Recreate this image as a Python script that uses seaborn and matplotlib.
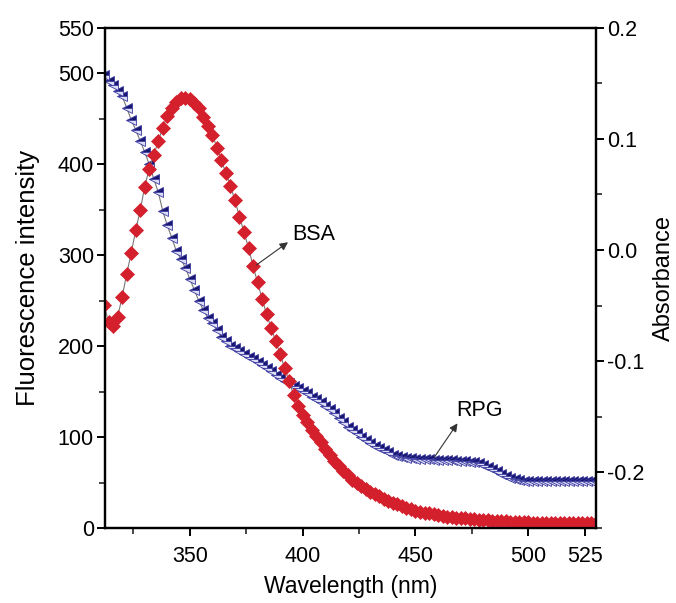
import numpy as np
import pandas as pd
import matplotlib
matplotlib.use("Agg")
import matplotlib.pyplot as plt
import seaborn as sns
from matplotlib.ticker import FixedLocator, MultipleLocator

# ---------------- data ----------------
wavelength = list(range(312, 532, 2))  # nm

bsa_fluorescence = [
    245, 226, 222, 232, 254, 279, 302, 327, 349, 375,
    395, 410, 425, 440, 453, 462, 468, 472, 473, 471,
    467, 461, 452, 442, 432, 418, 404, 390, 376, 360,
    342, 325, 308, 288, 270, 252, 235, 220, 206, 191,
    176, 161, 146, 134, 124, 116, 108, 101, 94, 87,
    80, 74, 68, 63, 58, 53, 49, 46, 43, 40,
    37, 35, 32, 30, 28, 26, 24, 22, 21, 19,
    18, 17, 16, 15, 14, 13, 12.5, 12, 11.5, 11,
    10.5, 10, 9.5, 9, 8.7, 8.4, 8, 7.8, 7.5, 7.2,
    7, 6.8, 6.6, 6.4, 6.2, 6, 5.9, 5.8, 5.7, 5.6,
    5.5, 5.4, 5.3, 5.2, 5.1, 5, 5, 5, 5, 5,
]

rpg_absorbance = [
    0.157, 0.152, 0.148, 0.143, 0.138, 0.128, 0.117, 0.108, 0.098, 0.088,
    0.077, 0.064, 0.052, 0.035, 0.022, 0.011, -0.001, -0.008, -0.016, -0.026,
    -0.036, -0.046, -0.054, -0.061, -0.066, -0.072, -0.078, -0.082, -0.086, -0.088,
    -0.091, -0.094, -0.096, -0.098, -0.101, -0.103, -0.106, -0.109, -0.112, -0.115,
    -0.118, -0.120, -0.122, -0.124, -0.127, -0.129, -0.132, -0.134, -0.137, -0.140,
    -0.143, -0.147, -0.151, -0.155, -0.159, -0.162, -0.165, -0.168, -0.171, -0.174,
    -0.176, -0.178, -0.180, -0.182, -0.184, -0.185, -0.186, -0.187, -0.187, -0.188,
    -0.188, -0.188, -0.188, -0.189, -0.189, -0.189, -0.189, -0.189, -0.190, -0.190,
    -0.190, -0.191, -0.191, -0.192, -0.193, -0.195, -0.197, -0.199, -0.201, -0.203,
    -0.205, -0.206, -0.207, -0.2075, -0.208, -0.208, -0.208, -0.208, -0.208, -0.208,
    -0.208, -0.208, -0.208, -0.208, -0.208, -0.208, -0.208, -0.208, -0.208, -0.208,
]

x_major = [350, 400, 450, 500, 525]
x_minor = [325, 375, 425, 475]
left_major = [0, 100, 200, 300, 400, 500, 550]
right_major = [-0.2, -0.1, 0.0, 0.1, 0.2]
right_labels = ["-0.2", "-0.1", "0.0", "0.1", "0.2"]

# ---------------- styling ----------------
sns.set_style("white")
plt.rcParams["font.family"] = ["Liberation Sans", "DejaVu Sans"]
plt.rcParams["axes.unicode_minus"] = False
plt.rcParams["text.color"] = "black"
plt.rcParams["axes.labelcolor"] = "black"

df = pd.DataFrame({"wavelength": wavelength,
                   "BSA": bsa_fluorescence,
                   "RPG": rpg_absorbance})

fig = plt.figure(figsize=(6.76, 6.03), dpi=100)
ax = fig.add_axes([105 / 676, 1 - 528 / 603, (596 - 105) / 676, (528 - 27.5) / 603])
ax2 = ax.twinx()

RED = "#d3202c"
NAVY = "#18166e"

# RPG absorbance (right axis), half-filled left triangles
sns.lineplot(data=df, x="wavelength", y="RPG", ax=ax2, color="#777777",
             linewidth=0.8, marker="<", markersize=7.8, fillstyle="top",
             markerfacecolor=NAVY, markerfacecoloralt="#dcdcf4",
             markeredgecolor="#3a3aa0", markeredgewidth=0.6,
             estimator=None, sort=False, legend=False)

# BSA fluorescence (left axis), red diamonds
sns.lineplot(data=df, x="wavelength", y="BSA", ax=ax, color="#777777",
             linewidth=0.8, marker="D", markersize=6.8,
             markerfacecolor=RED, markeredgecolor=RED, markeredgewidth=0.5,
             estimator=None, sort=False, legend=False)

# draw the BSA axes on top of the twin
ax.set_zorder(2)
ax.patch.set_visible(False)
ax2.set_zorder(1)

ax.set_xlim(312.4, 530)
ax.set_ylim(0, 550)
ax2.set_ylim(-0.25, 0.2)

FS = 15.5
ax.xaxis.set_major_locator(FixedLocator(x_major))
ax.xaxis.set_minor_locator(FixedLocator(x_minor))
ax.set_yticks(left_major)
ax.yaxis.set_minor_locator(MultipleLocator(50))
ax2.set_yticks(right_major)
ax2.set_yticklabels(right_labels)
ax2.yaxis.set_minor_locator(MultipleLocator(0.05))

for a in (ax, ax2):
    for s in a.spines.values():
        s.set_color("black")
        s.set_linewidth(1.6)
    a.tick_params(which="major", direction="out", length=6, width=1.4,
                  labelsize=FS, colors="black")
    a.tick_params(which="minor", direction="out", length=4, width=1.2)

ax.tick_params(axis="x", which="both", bottom=True, top=False, pad=7)
ax.tick_params(axis="y", which="both", left=True, right=False, pad=2)
ax2.tick_params(axis="y", which="both", right=True, left=False, pad=2)

ax.set_xlabel("Wavelength (nm)", fontsize=16.5, labelpad=6, color="black")
ax.set_ylabel("Fluorescence intensity", fontsize=18.5, labelpad=13, color="black")
ax2.set_ylabel("Absorbance", fontsize=17, labelpad=6, color="black")

# annotations: arrow from the curve towards the label
ax.annotate("", xy=(393.5, 314), xytext=(379.5, 289),
            arrowprops=dict(arrowstyle="-|>", color="#333333", lw=0.8,
                            mutation_scale=12, shrinkA=0, shrinkB=0))
ax.text(395.5, 323, "BSA", fontsize=FS, ha="left", va="center", color="black")
ax.annotate("", xy=(468.6, 115), xytext=(458.4, 78),
            arrowprops=dict(arrowstyle="-|>", color="#333333", lw=0.8,
                            mutation_scale=12, shrinkA=0, shrinkB=0))
ax.text(468, 129, "RPG", fontsize=FS, ha="left", va="center", color="black")

fig.savefig("out.png", dpi=100, facecolor="white")
